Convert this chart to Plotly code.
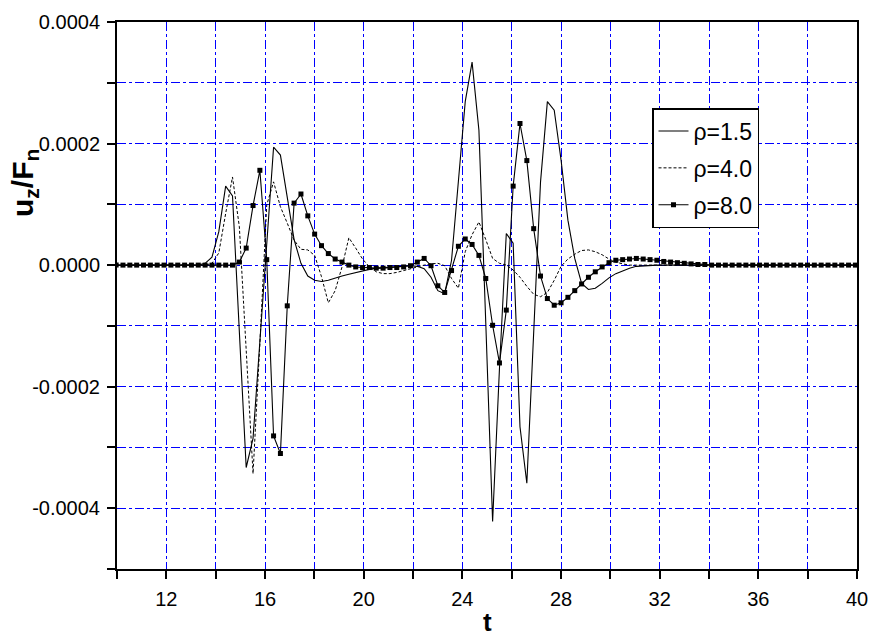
import plotly.graph_objects as go

# sampling grid of the time axis (t)
t = [round(9.965 + 0.2775 * k, 4) for k in range(109)]

# u_z/F_n values in units of 1e-4
rho15_e4 = [
    0, 0, 0, 0, 0, 0, 0, 0, 0, 0, 0, 0, 0,
    0.03, 0.13, 0.55, 1.30, 1.14, -1.00, -3.33, -2.85, -1.26, 0.28,
    1.94, 1.81, 1.12, 0.42, 0.03, -0.18, -0.25, -0.27, -0.25, -0.21,
    -0.18, -0.15, -0.12, -0.09, -0.07, -0.05, -0.04, -0.03, -0.02, -0.02,
    -0.01, -0.02, -0.06, -0.20, -0.42, -0.47, 0.08, 1.38, 2.69, 3.34,
    2.22, -0.95, -4.22, -1.70, 0.52, 0.36, -2.66, -3.59, -1.15, 1.37,
    2.69, 2.55, 1.73, 0.74, 0.11, -0.30, -0.40, -0.38, -0.30, -0.21,
    -0.14, -0.09, -0.05, -0.02, -0.01,
    0, 0, 0, 0, 0, 0, 0, 0, 0, 0, 0, 0, 0, 0, 0, 0,
    0, 0, 0, 0, 0, 0, 0, 0, 0, 0, 0, 0, 0, 0, 0,
]
rho40_e4 = [
    0, 0, 0, 0, 0, 0, 0, 0, 0, 0, 0, 0, 0, 0,
    0.03, 0.20, 0.85, 1.45, 0.63, -1.40, -3.43, -1.29, 0.99, 1.37,
    0.96, 0.69, 0.41, 0.26, 0.25, 0.16, -0.19, -0.62, -0.42, -0.03,
    0.45, 0.28, 0.10, -0.03, -0.11, -0.14, -0.14, -0.12, -0.09, -0.05,
    -0.02, 0.00, 0.02, 0.03, -0.01, -0.22, -0.38, 0.22, 0.50, 0.71,
    0.42, 0.11, 0.03, 0.00, -0.08, -0.20, -0.35, -0.48, -0.52, -0.45,
    -0.25, -0.02, 0.10, 0.18, 0.24, 0.25, 0.22, 0.17, 0.10, 0.05,
    0.02,
    0, 0, 0, 0, 0, 0, 0, 0, 0, 0, 0, 0, 0, 0, 0, 0, 0,
    0, 0, 0, 0, 0, 0, 0, 0, 0, 0, 0, 0, 0, 0, 0, 0, 0,
]
rho80_e4 = [
    0, 0, 0, 0, 0, 0, 0, 0, 0, 0, 0, 0, 0, 0, 0, 0, 0, 0,
    0.05, 0.28, 0.98, 1.56, 0.09, -2.81, -3.10, -0.67, 1.02, 1.17,
    0.81, 0.51, 0.32, 0.19, 0.10, 0.05, 0.00, -0.03, -0.04, -0.04,
    -0.05, -0.05, -0.04, -0.04, -0.03, -0.01, 0.05, 0.11, -0.01, -0.34,
    -0.45, -0.09, 0.31, 0.43, 0.34, 0.16, -0.22, -0.99, -1.61, -0.74,
    1.30, 2.33, 1.72, 0.60, -0.18, -0.55, -0.66, -0.62, -0.53, -0.42,
    -0.31, -0.20, -0.11, -0.03, 0.04, 0.08, 0.09, 0.10, 0.11, 0.10,
    0.09, 0.08, 0.06, 0.05, 0.04, 0.03, 0.02, 0.01, 0.01,
    0, 0, 0, 0, 0, 0, 0, 0, 0, 0, 0,
    0, 0, 0, 0, 0, 0, 0, 0, 0, 0, 0,
]

series_names = ["\u03c1=1.5", "\u03c1=4.0", "\u03c1=8.0"]

x_tickvals = [12, 16, 20, 24, 28, 32, 36, 40]
x_ticktext = ["12", "16", "20", "24", "28", "32", "36", "40"]
y_tickvals = [0.0004, 0.0002, 0.0, -0.0002, -0.0004]
y_ticktext = ["0.0004", "0.0002", "0.0000", "-0.0002", "-0.0004"]

FONT = "Liberation Sans, Arial, sans-serif"


def scale(vals):
    return [v * 1e-4 for v in vals]


fig = go.Figure()
fig.add_trace(go.Scatter(
    x=t, y=scale(rho15_e4), name=series_names[0], mode="lines",
    line=dict(color="black", width=1.1), legendgroup="a"))
fig.add_trace(go.Scatter(
    x=t, y=scale(rho40_e4), name=series_names[1], mode="lines",
    line=dict(color="black", width=1.0, dash="3px,2px"), legendgroup="b"))
fig.add_trace(go.Scatter(
    x=t, y=scale(rho80_e4), name=series_names[2], mode="lines+markers",
    line=dict(color="black", width=1.1),
    marker=dict(symbol="square", size=5, color="black"), legendgroup="c"))

grid_blue = "rgb(0,0,255)"
common_axis = dict(
    showline=True, linecolor="black", linewidth=2, mirror=True,
    ticks="outside", ticklen=8, tickwidth=1.5, tickcolor="black",
    ticklabelstandoff=3, automargin=False,
    showgrid=True, gridcolor=grid_blue, gridwidth=1, griddash="dashdot",
    zeroline=False, tickfont=dict(family=FONT, size=20, color="black"),
)

fig.update_xaxes(
    range=[10, 40], tickmode="array", tickvals=x_tickvals, ticktext=x_ticktext,
    minor=dict(tickmode="linear", tick0=10, dtick=2, ticks="outside", ticklen=8,
               tickwidth=1.5, tickcolor="black", showgrid=True,
               gridcolor=grid_blue, gridwidth=1, griddash="dashdot"),
    **common_axis)
fig.update_yaxes(
    range=[-0.0005, 0.0004], tickmode="array", tickvals=y_tickvals,
    ticktext=y_ticktext,
    minor=dict(tickmode="linear", tick0=0, dtick=0.0001, ticks="outside",
               ticklen=8, tickwidth=1.5, tickcolor="black", showgrid=True,
               gridcolor=grid_blue, gridwidth=1, griddash="dashdot"),
    **common_axis)

fig.update_layout(
    width=869, height=642,
    margin=dict(l=117, r=12, t=22, b=73),
    paper_bgcolor="white", plot_bgcolor="white",
    font=dict(family=FONT, color="black"),
    showlegend=True,
    legend=dict(
        x=(652 - 117) / 740, y=(569 - 108) / 547, xanchor="left", yanchor="top",
        bgcolor="white", bordercolor="black", borderwidth=1.5,
        font=dict(family=FONT, size=23, color="black"),
        tracegroupgap=4, traceorder="grouped",
    ),
    annotations=[
        dict(text="<b>u<sub>z</sub>/F<sub>n</sub></b>", xref="paper", yref="paper",
             x=(24 - 117) / 740, y=(569 - 183) / 547, textangle=-90,
             showarrow=False, xanchor="center", yanchor="middle",
             font=dict(family=FONT, size=30, color="black")),
        dict(text="<b>t</b>", xref="paper", yref="paper",
             x=0.5, y=(569 - 622) / 547, showarrow=False,
             xanchor="center", yanchor="middle",
             font=dict(family=FONT, size=26, color="black")),
    ],
)

fig.write_html("out.html")
